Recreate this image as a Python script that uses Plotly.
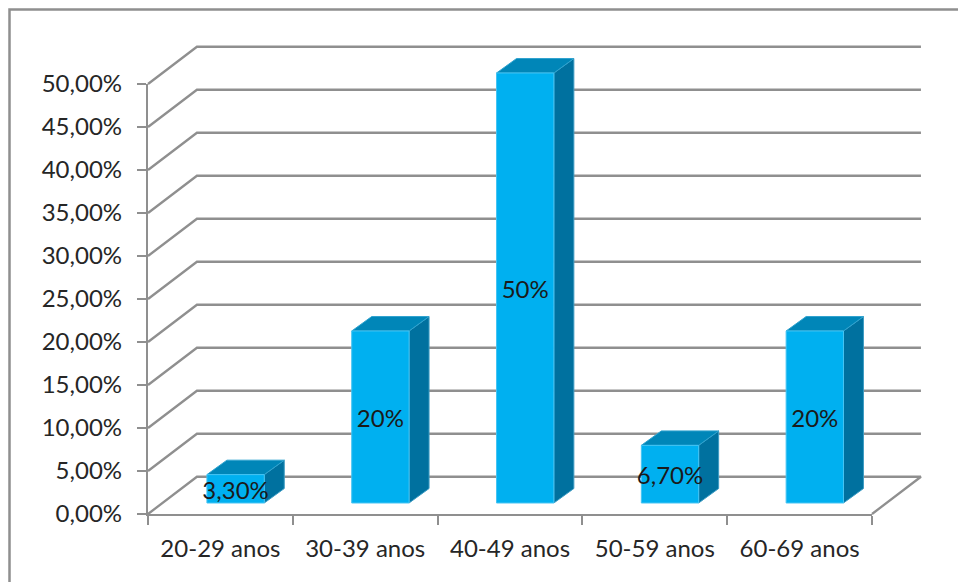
import plotly.graph_objects as go

# Age bands and their share of respondents (%)
categories = ["20-29 anos", "30-39 anos", "40-49 anos", "50-59 anos", "60-69 anos"]
values = [3.3, 20, 50, 6.7, 20]
value_labels = ["3,30%", "20%", "50%", "6,70%", "20%"]
y_ticks = [0, 5, 10, 15, 20, 25, 30, 35, 40, 45, 50]
y_tick_labels = ["0,00%", "5,00%", "10,00%", "15,00%", "20,00%", "25,00%",
                 "30,00%", "35,00%", "40,00%", "45,00%", "50,00%"]

WIDTH, HEIGHT = 958, 582
GREY = "#8f8f8f"
FRONT = "#00b0f0"
TOP = "#0086b8"
SIDE = "#00719f"
TEXT = "#262626"
FONT = "Lato"

# Pixel box of the front axis plane
AX_LEFT, AX_RIGHT, AX_TOP, AX_BOTTOM = 148, 872, 84, 514

n = len(categories)
px_per_cat = (AX_RIGHT - AX_LEFT) / n
px_per_unit = (AX_BOTTOM - AX_TOP) / 50

# Oblique projection of the depth axis, in axis units
wall_dx, wall_dy = 0.338, 4.33
bar_front_dx, bar_front_dy = 0.105, 1.28
bar_depth_dx, bar_depth_dy = 0.138, 1.68
bar_width = 0.396

fig = go.Figure()

# The labelled axes need a trace to be drawn; it shows nothing itself
fig.add_trace(go.Scatter(x=[0, n], y=[0, 50], mode="none", xaxis="x", yaxis="y",
                         hoverinfo="skip"))


def projected(**kw):
    # Everything in depth is drawn on a page-wide pair of axes sharing the same scale
    fig.add_trace(go.Scatter(xaxis="x2", yaxis="y2", hoverinfo="skip", **kw))


# Walls: each gridline runs from the front axis, back, then across the rear wall
for v in y_ticks:
    xs = [0, wall_dx, n + wall_dx]
    ys = [v, v + wall_dy, v + wall_dy]
    if v == 0:
        xs.append(n)
        ys.append(0)
    projected(x=xs, y=ys, mode="lines", line=dict(color=GREY, width=2.3))


def face(xs, ys, color, edge):
    projected(x=xs + xs[:1], y=ys + ys[:1], mode="lines", fill="toself",
              fillcolor=color, line=dict(color=edge, width=1))


# Each column is three faces: front, top and right side
for i, v in enumerate(values):
    x0 = i + 0.5 + bar_front_dx - bar_width / 2
    x1 = x0 + bar_width
    y0 = bar_front_dy
    y1 = v + bar_front_dy
    dx, dy = bar_depth_dx, bar_depth_dy
    face([x1, x1 + dx, x1 + dx, x1], [y0, y0 + dy, y1 + dy, y1], SIDE, "#3d9cc4")
    face([x0, x0 + dx, x1 + dx, x1], [y1, y1 + dy, y1 + dy, y1], TOP, "#2fa3cf")
    face([x0, x1, x1, x0], [y0, y0, y1, y1], FRONT, "#45c4f3")

# Value labels centred on the front faces
projected(x=[i + 0.5 + bar_front_dx for i in range(n)],
          y=[v / 2 + bar_front_dy - 0.5 for v in values],
          mode="text", text=value_labels, textposition="middle center",
          textfont=dict(family=FONT, size=24, color="#1a1a1a"))

fig.update_layout(
    width=WIDTH, height=HEIGHT, autosize=False,
    margin=dict(l=0, r=0, t=0, b=0, autoexpand=False),
    paper_bgcolor="white", plot_bgcolor="rgba(0,0,0,0)",
    showlegend=False,
    font=dict(family=FONT, size=24, color=TEXT),
    xaxis=dict(domain=[AX_LEFT / WIDTH, AX_RIGHT / WIDTH], anchor="y",
               range=[0, n], tickmode="array",
               tickvals=[i + 0.5 for i in range(n)], ticktext=categories,
               ticks="", showgrid=False, zeroline=False, ticklabelstandoff=12,
               showline=True, linecolor=GREY, linewidth=2.3,
               minor=dict(tickmode="array", tickvals=list(range(n + 1)), ticks="outside",
                          ticklen=9, tickwidth=2.3, tickcolor=GREY, showgrid=False)),
    yaxis=dict(domain=[1 - AX_BOTTOM / HEIGHT, 1 - AX_TOP / HEIGHT], anchor="x",
               range=[0, 50], tickmode="array", tickvals=y_ticks, ticktext=y_tick_labels,
               ticks="outside", ticklen=9, ticklabelstandoff=10,
               tickwidth=2.3, tickcolor=GREY, showgrid=False, zeroline=False,
               showline=True, linecolor=GREY, linewidth=2.3),
    xaxis2=dict(domain=[0, 1], anchor="y2", visible=False,
                range=[-AX_LEFT / px_per_cat, (WIDTH - AX_LEFT) / px_per_cat]),
    yaxis2=dict(domain=[0, 1], anchor="x2", visible=False,
                range=[(AX_BOTTOM - HEIGHT) / px_per_unit, AX_BOTTOM / px_per_unit]),
    # Outer chart frame, open past the page's right and bottom edges
    shapes=[dict(type="path", xref="paper", yref="paper", layer="below",
                 path=f"M {9.5 / WIDTH} -0.1 L {9.5 / WIDTH} {1 - 9.5 / HEIGHT} L 1.1 {1 - 9.5 / HEIGHT}",
                 line=dict(color=GREY, width=2.5))],
)

fig.write_html("out.html")
